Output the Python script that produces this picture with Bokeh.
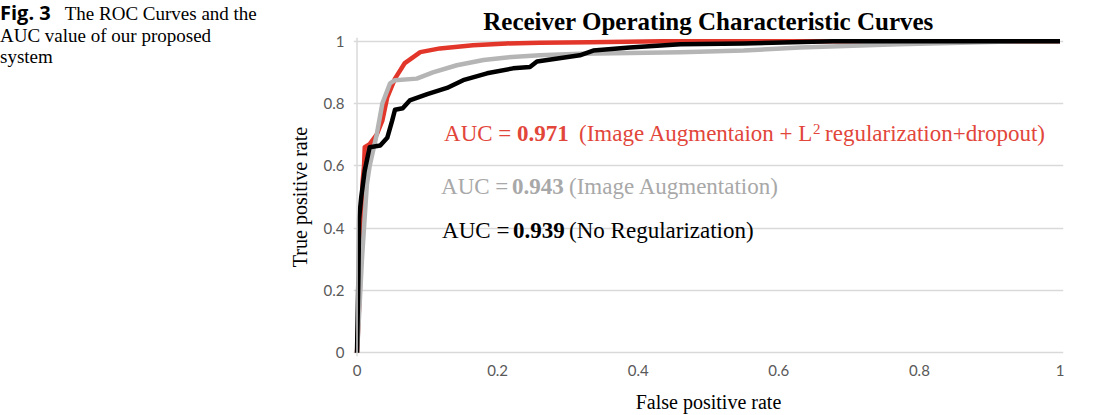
from bokeh.plotting import figure
from bokeh.models import Range1d, Label, Span, FixedTicker, Div
from bokeh.layouts import row
from bokeh.embed import file_html
from bokeh.resources import INLINE

# ---- data ----
red_fpr = [0, 0.004, 0.006, 0.008, 0.010, 0.011, 0.018, 0.028, 0.036, 0.043, 0.054,
           0.068, 0.090, 0.118, 0.165, 0.213, 0.260, 0.330, 0.435, 0.600, 0.800, 1.0]
red_tpr = [0, 0.20, 0.42, 0.55, 0.60, 0.66, 0.67, 0.70, 0.745, 0.82, 0.88,
           0.93, 0.965, 0.977, 0.987, 0.993, 0.995, 0.997, 1.0, 1.0, 1.0, 1.0]

gray_fpr = [0, 0.002, 0.007, 0.014, 0.018, 0.021, 0.028, 0.036, 0.047, 0.054, 0.085, 0.108,
            0.142, 0.180, 0.213, 0.260, 0.317, 0.460, 0.550, 0.630, 0.770, 0.860, 0.943, 1.0]
gray_tpr = [0, 0.08, 0.30, 0.54, 0.60, 0.63, 0.70, 0.80, 0.865, 0.875, 0.88, 0.90,
            0.923, 0.94, 0.948, 0.955, 0.96, 0.965, 0.97, 0.98, 0.99, 0.995, 1.0, 1.0]

black_fpr = [0, 0.002, 0.003, 0.006, 0.011, 0.018, 0.033, 0.043, 0.050, 0.054, 0.065, 0.075,
             0.100, 0.128, 0.151, 0.185, 0.222, 0.246, 0.256, 0.317, 0.336, 0.388, 0.460,
             0.550, 0.677, 1.0]
black_tpr = [0, 0.25, 0.43, 0.50, 0.585, 0.66, 0.665, 0.69, 0.745, 0.78, 0.785, 0.81,
             0.83, 0.85, 0.875, 0.897, 0.913, 0.917, 0.935, 0.955, 0.97, 0.98, 0.99,
             0.993, 1.0, 1.0]

ticks = [0, 0.2, 0.4, 0.6, 0.8, 1.0]
tick_labels = ["0", "0.2", "0.4", "0.6", "0.8", "1"]

auc_red = "0.971"
auc_gray = "0.943"
auc_black = "0.939"

title_text = "Receiver Operating Characteristic Curves"
caption_bold = "Fig. 3"
caption_lines = ["The ROC Curves and the", "AUC value of our proposed", "system"]

SERIF = "Liberation Serif"
TICKFONT = "Lato"
RED_LINE = "#e3362b"
RED_TEXT = "#e2463b"
GRAY_LINE = "#b5b5b5"
GRAY_TEXT = "#a8a8a8"

CAP_W = 280

p = figure(width=1099 - CAP_W, height=415, output_backend="svg", toolbar_location=None,
           x_range=Range1d(-0.005, 1.005), y_range=Range1d(-0.012, 1.012),
           min_border_left=73, min_border_right=36, min_border_top=37, min_border_bottom=59)
p.outline_line_color = None
p.background_fill_color = "white"

p.title.text = title_text
p.title.align = "center"
p.title.text_font = SERIF
p.title.text_font_size = "25px"
p.title.text_font_style = "bold"
p.title.text_color = "black"
p.title.standoff = 6

# axes
for ax in (p.xaxis[0], p.yaxis[0]):
    ax.ticker = FixedTicker(ticks=ticks)
    ax.major_label_overrides = {t: l for t, l in zip(ticks, tick_labels)}
    ax.major_tick_line_color = None
    ax.minor_tick_line_color = None
    ax.axis_line_color = None
    ax.major_label_text_font = TICKFONT
    ax.major_label_text_font_size = "15px"
    ax.major_label_text_color = "#595959"
    ax.axis_label_text_font = SERIF
    ax.axis_label_text_font_style = "normal"
    ax.axis_label_text_font_size = "20px"
    ax.axis_label_text_color = "black"

p.xaxis.axis_label = "False positive rate"
p.yaxis.axis_label = "True positive rate"
p.xaxis.major_label_standoff = 2
p.yaxis.major_label_standoff = 3
p.xaxis.axis_label_standoff = 12
p.yaxis.axis_label_standoff = 10

p.xgrid.grid_line_color = None
p.ygrid.grid_line_color = "#d9d9d9"
p.ygrid.grid_line_width = 1.5
p.add_layout(Span(location=0, dimension="height", line_color="#d9d9d9", line_width=1.5))

# curves
p.line(red_fpr, red_tpr, line_color=RED_LINE, line_width=4.5, line_join="round")
p.line(gray_fpr, gray_tpr, line_color=GRAY_LINE, line_width=4.5, line_join="round")
p.line(black_fpr, black_tpr, line_color="black", line_width=4.5, line_join="round")

# AUC annotations
def lab(x, y, text, color, xo=0, yo=0, bold=False, size="23px"):
    p.add_layout(Label(x=x, y=y, x_offset=xo, y_offset=yo, text=text, text_font=SERIF,
                       text_font_size=size, text_font_style="bold" if bold else "normal",
                       text_color=color, text_baseline="alphabetic", text_align="left"))

rx, ry = 0.1238, 0.704
lab(rx, ry, "AUC =", RED_TEXT)
lab(rx, ry, auc_red, RED_TEXT, xo=73, bold=True)
lab(rx, ry, "(Image Augmentaion + L", RED_TEXT, xo=135)
lab(rx, ry, "2", RED_TEXT, xo=369, yo=4, size="15px")
lab(rx, ry, "regularization+dropout)", RED_TEXT, xo=381)

gx, gy = 0.1195, 0.534
lab(gx, gy, "AUC =", GRAY_TEXT)
lab(gx, gy, auc_gray, GRAY_TEXT, xo=71, bold=True)
lab(gx, gy, "(Image Augmentation)", GRAY_TEXT, xo=128)

bx, by = 0.121, 0.393
lab(bx, by, "AUC =", "black")
lab(bx, by, auc_black, "black", xo=71, bold=True)
lab(bx, by, "(No Regularization)", "black", xo=127)

# caption (top-left)
cap_html = (
    '<div style="font-family:\'Liberation Serif\',serif;font-size:19px;line-height:21.5px;'
    'color:black;white-space:nowrap;margin:0;padding:2px 0 0 0;">'
    '<span style="font-family:\'Open Sans\',sans-serif;font-weight:bold;font-size:20px;'
    'margin-right:14px;">' + caption_bold + '</span>' + caption_lines[0] + '<br>'
    + '<br>'.join(caption_lines[1:]) + '</div>'
)
cap = Div(text=cap_html, width=CAP_W, height=415, margin=(0, 0, 0, 0))

layout = row(cap, p)
layout.spacing = 0

open("out.html", "w").write(file_html(layout, INLINE))
